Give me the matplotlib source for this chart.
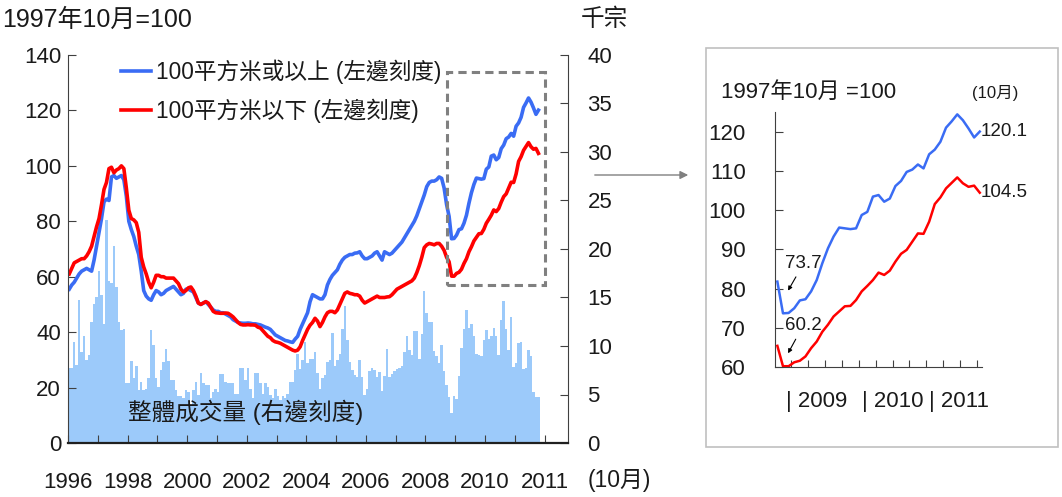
import numpy as np
import matplotlib.pyplot as plt
from matplotlib.patches import Rectangle, FancyArrowPatch

plt.rcParams['font.family'] = ['Liberation Sans', 'Noto Sans CJK TC']
plt.rcParams['text.color'] = '#1a1a1a'

# monthly data, Jan 1996 - Oct 2011 (index, Oct 1997 = 100)
large_units = [
    55.5, 57, 58, 59.5, 61, 62, 62.5, 63, 62.5, 62, 66, 71,
    76, 81, 87, 88, 87.5, 96, 96.5, 95.5, 96, 96.5, 95, 89,
    80, 77, 74.5, 71, 68, 62, 55, 53, 52, 51.5, 53.5, 55,
    54.5, 53.5, 54, 55, 55.5, 56, 56.5, 55.5, 54.5, 53.5, 54, 55.5,
    55.5, 55, 54.5, 52.5, 50.5, 50, 50.5, 51, 50, 49, 48, 47.5,
    47.5, 47, 47, 46.5, 46, 45.5, 44.5, 44, 43.5, 43.3, 43.2, 43.2,
    43.3, 43.2, 43, 43, 42.8, 42.6, 42.2, 41.8, 41.5, 41, 40, 39,
    38.5, 38, 37.5, 37, 36.8, 36.5, 36.3, 37.5, 38.5, 41, 43, 45,
    47, 51, 53.5, 53, 52.5, 52, 52, 53.5, 57, 59, 60.5, 61.5,
    62.5, 64.5, 66, 67, 67.5, 68, 68, 68.5, 68.6, 69, 67.5, 66.5,
    66.5, 67, 67.5, 68.5, 69, 67.5, 66, 69, 68.5, 68, 68.5, 69.5,
    70.5, 71.5, 72.5, 74, 75.5, 77, 78.5, 80, 82, 84.5, 87, 89.5,
    92.5, 94, 94.5, 94.5, 95, 96, 95.5, 92, 86, 81.8, 73.7, 73.8,
    75, 77, 77.3, 79.3, 82.2, 86.5, 90.3, 93.3, 95.6, 95.4, 95.2, 95.4,
    98.8, 99.6, 103.5, 103.9, 102.2, 103, 106.2, 107.5, 109.8, 110.4, 111.7, 110.7,
    114.3, 115.5, 117.5, 121.1, 122.7, 124.5, 123, 120.9, 118.6, 120.1,
]
small_units = [
    61, 63, 65, 65.5, 66, 66.5, 66.5, 67.5, 69, 71, 74.5, 78,
    81, 86, 91.5, 94, 99, 99.5, 97.5, 98.5, 99, 100, 99, 92,
    84, 81, 80.5, 79.5, 76, 67, 63.5, 61, 58, 56, 58, 60.5,
    60.5, 60, 60, 59.5, 59.5, 59.5, 59.5, 58.5, 57.5, 55.5, 54.5, 55,
    56, 56.3, 55, 53, 50.5, 50, 50.5, 51, 50.5, 49, 47.5, 47,
    46.9, 46.8, 46.8, 46.9, 46.8, 46.2, 45.5, 44.5, 43.5, 42.8, 42.6, 42.6,
    42.7, 42.6, 42.6, 42.5, 41.8, 41.5, 40.5, 39.5, 38.5, 38, 37, 36.5,
    36.3, 36, 35.5, 35, 34.5, 34, 33.5, 33.2, 33.5, 34.7, 37, 39,
    41, 42.5, 43.5, 45, 44, 42, 43.5, 45.5, 47, 47.5, 47.5, 47,
    48, 50, 52, 54, 54.5, 54, 53.8, 53.5, 53.5, 53, 51.5, 50.5,
    51, 51.5, 52, 52.5, 53, 52.5, 52.5, 52.5, 52.7, 52.8, 53.5, 54.5,
    55.5, 56, 56.5, 57, 57.5, 58, 58.5, 59.5, 61.5, 64, 67, 70.5,
    71.5, 72, 71.8, 71.5, 72, 72, 71, 69.5, 67, 65.4, 60.2, 60.2,
    61.2, 61.6, 62.7, 64.8, 66.5, 69, 70.8, 72.9, 74.2, 75.5, 75.6, 77.1,
    79.3, 80.7, 82.2, 84.1, 83.5, 84.6, 86.9, 88.9, 89.9, 92, 94.1, 94,
    97.1, 101.6, 103.3, 105.6, 107, 108.4, 106.9, 106, 106.3, 104.5,
]
# total transactions, thousand deals
volume = [
    7.7, 7.7, 10.4, 8.0, 14.7, 9.4, 11.0, 8.6, 9.1, 12.5, 14.3, 15.1,
    17.7, 15.3, 12.3, 23.0, 16.7, 16.5, 20.3, 16.1, 12.5, 11.6, 11.8, 6.2,
    6.2, 8.5, 6.7, 7.9, 5.5, 6.3, 5.5, 5.6, 6.7, 11.6, 10.1, 6.7,
    5.8, 7.5, 8.4, 9.7, 8.5, 6.5, 6.5, 5.5, 4.8, 4.8, 4.6, 5.5,
    5.3, 3.9, 5.5, 6.3, 5.0, 7.2, 6.2, 6.0, 6.0, 4.6, 5.3, 5.6,
    5.3, 7.1, 7.1, 6.3, 6.2, 6.2, 6.2, 5.1, 5.1, 7.7, 7.7, 6.5,
    7.7, 5.6, 4.6, 7.2, 7.2, 6.2, 5.1, 6.2, 5.8, 4.9, 4.6, 5.6,
    4.8, 4.4, 4.8, 4.6, 5.1, 6.3, 6.3, 7.5, 9.2, 7.6, 8.6, 10.4,
    8.2, 8.7, 8.7, 9.4, 7.2, 5.6, 6.7, 7.0, 8.4, 8.6, 11.3, 7.9,
    8.6, 9.2, 11.8, 14.1, 10.6, 8.4, 7.5, 7.0, 6.8, 8.6, 6.8, 4.9,
    5.6, 7.4, 7.7, 7.5, 6.8, 7.3,
    5.4, 6.9, 9.7, 6.8, 7.1, 7.4, 7.6, 7.7, 7.9, 9.4, 11.0, 9.6, 9.1, 11.5, 11.5, 8.7,
    11.2, 15.7, 13.4, 12.5, 12.5, 9.5, 9.0, 8.2, 10.1, 7.4, 6.0, 4.7, 3.1, 4.8, 4.5, 6.9,
    9.8, 11.8, 13.7, 11.9, 12.3, 11.0, 9.2, 9.1, 9.0, 10.6, 11.6, 10.7, 11.0, 11.9, 11.0, 9.1,
    12.7, 14.6, 11.8, 9.6, 13.0, 7.8, 8.2, 10.3, 10.4, 7.6, 7.7, 9.6, 9.0, 5.3, 4.7, 4.7,
]
year_labels = ['1996', '', '1998', '', '2000', '', '2002', '', '2004', '', '2006', '',
               '2008', '', '2010', '', '2011']
inset_start = 153  # Oct 2008
inset_years = ['| 2009', '| 2010', '| 2011']

BLUE = '#3a6cf4'
RED = '#ff0000'
BAR = '#9ccafa'
W, H = 1062, 497


def fx(px):
    return px / W


def fy(py):
    return 1 - py / H


months = np.arange(len(volume)) + 0.5

fig = plt.figure(figsize=(W / 100, H / 100), dpi=100)

# ---- main chart
ax = fig.add_axes([fx(68), fy(443), 500 / W, 388 / H])
ax2 = ax.twinx()
ax2.bar(months, volume, width=1.0, color=BAR, linewidth=0)
l1, = ax.plot(months, large_units, color=BLUE, lw=2.6)
l2, = ax.plot(months, small_units, color=RED, lw=2.6)
ax.set_zorder(2)
ax2.set_zorder(1)
ax.patch.set_visible(False)

ax.set_xlim(0, 201.4)
ax.set_ylim(0, 140)
ax2.set_ylim(0, 40)
ax.set_yticks(range(0, 141, 20))
ax2.set_yticks(range(0, 41, 5))
ax.set_xticks(range(0, 193, 12))
ax.set_xticklabels(year_labels)

for a in (ax, ax2):
    a.spines['top'].set_visible(False)
ax.spines['right'].set_visible(False)
ax2.spines['left'].set_visible(False)
ax2.spines['bottom'].set_visible(False)
ax.spines['left'].set_color('#404040')
ax.spines['bottom'].set_color('#202020')
ax.spines['bottom'].set_linewidth(1.6)
ax2.spines['right'].set_color('#404040')

ax.tick_params(axis='y', direction='in', length=6, pad=5, labelsize=16, colors='#404040', labelcolor='#1a1a1a')
ax.tick_params(axis='x', direction='in', length=6, pad=21, labelsize=16, colors='#404040', labelcolor='#1a1a1a')
ax2.tick_params(axis='y', direction='in', length=6, pad=14, labelsize=16, colors='#404040', labelcolor='#1a1a1a')

ax.legend([l1, l2], ['100平方米或以上 (左邊刻度)', '100平方米以下 (左邊刻度)'],
          loc='upper left', bbox_to_anchor=(fx(121), fy(60)), bbox_transform=fig.transFigure,
          frameon=False, fontsize=16.3, handlelength=1.33, handletextpad=0.22,
          labelspacing=0.62, borderpad=0, borderaxespad=0)

ax.add_patch(Rectangle((152.6, 57.0), 39.5, 76.9, fill=False, ec='#808080', lw=2.2,
                       ls=(0, (2.7, 1.7)), zorder=5, clip_on=False))

fig.text(fx(2), fy(20), '1997年10月=100', fontsize=18, va='center', ha='left')
fig.text(fx(581), fy(20), '千宗', fontsize=17, va='center', ha='left')
fig.text(fx(128), fy(412), '整體成交量 (右邊刻度)', fontsize=17, va='center', ha='left', zorder=10)
fig.text(fx(588), fy(480), '(10月)', fontsize=16.5, va='center', ha='left')

fig.add_artist(FancyArrowPatch((fx(592), fy(175)), (fx(691), fy(175)), transform=fig.transFigure,
                               arrowstyle='-|>', mutation_scale=12, color='#808080', lw=1))

# ---- inset
fig.add_artist(Rectangle((fx(706), fy(447)), (1058 - 706) / W, (447 - 48) / H,
                         transform=fig.transFigure, fill=False, ec='#c0c0c0', lw=1.2))

axi = fig.add_axes([fx(775), fy(367), (982 - 775) / W, (367 - 112) / H])
k = np.arange(len(volume) - inset_start)
axi.plot(k, large_units[inset_start:], color=BLUE, lw=1.8)
axi.plot(k, small_units[inset_start:], color=RED, lw=1.8)
axi.set_xlim(-0.42, 36.4)
axi.set_ylim(60, 125.1)
axi.set_yticks(range(60, 121, 10))
axi.set_xticks(np.arange(2.5, 36, 3))
axi.set_xticklabels([])
for s in ('top', 'right'):
    axi.spines[s].set_visible(False)
axi.spines['left'].set_color('#404040')
axi.spines['bottom'].set_color('#404040')
axi.tick_params(axis='y', direction='in', length=6, pad=21, labelsize=16, colors='#404040', labelcolor='#1a1a1a')
axi.tick_params(axis='x', direction='in', length=5, colors='#404040')

for x, lab in zip([1.6, 15.0, 26.9], inset_years):
    axi.text(x, -0.137, lab, transform=axi.get_xaxis_transform(), fontsize=16, ha='left', va='center')

last = len(k) - 1
axi.text(last + 0.2, large_units[-1], f'{large_units[-1]:.1f}', fontsize=13.5, ha='left', va='center')
axi.text(last + 0.2, small_units[-1], f'{small_units[-1]:.1f}', fontsize=13.5, ha='left', va='center')
axi.annotate(f'{large_units[inset_start + 1]:.1f}', xy=(1.9, 79.5), xytext=(4.7, 86.5),
             fontsize=13.5, ha='center', va='center',
             arrowprops=dict(arrowstyle='-|>', color='black', lw=0.8, mutation_scale=6,
                             shrinkA=2, shrinkB=0))
axi.annotate(f'{small_units[inset_start + 1]:.1f}', xy=(1.9, 63.5), xytext=(4.6, 70.6),
             fontsize=13.5, ha='center', va='center',
             arrowprops=dict(arrowstyle='-|>', color='black', lw=0.8, mutation_scale=6,
                             shrinkA=2, shrinkB=0))

fig.text(fx(721), fy(92), '1997年10月 =100', fontsize=16, va='center', ha='left')
fig.text(fx(972), fy(93), '(10月)', fontsize=12, va='center', ha='left')

fig.savefig('out.png', dpi=100)
